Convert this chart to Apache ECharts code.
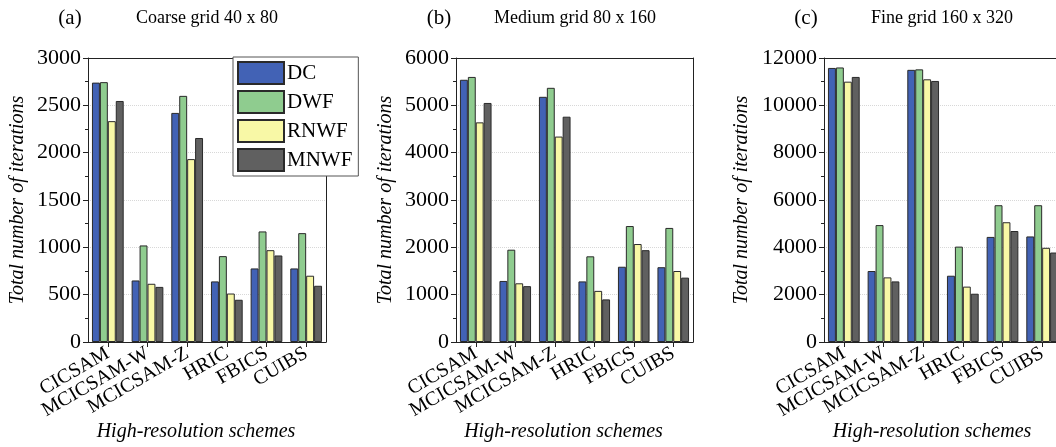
<!DOCTYPE html>
<html><head><meta charset="utf-8">
<script src="https://cdn.jsdelivr.net/npm/echarts@6/dist/echarts.min.js"></script>
<style>html,body{margin:0;padding:0;background:#fff}#c{width:1056px;height:447px}</style>
</head><body><div id="c"></div>
<script>
const categories = ['CICSAM','MCICSAM-W','MCICSAM-Z','HRIC','FBICS','CUIBS'];
const seriesNames = ['DC','DWF','RNWF','MNWF'];
// Panel (a) Coarse grid 40 x 80
const coarseDC   = [2740, 650, 2420, 640, 777, 777];
const coarseDWF  = [2745, 1020, 2600, 907, 1168, 1150];
const coarseRNWF = [2333, 615, 1932, 512, 970, 700];
const coarseMNWF = [2546, 582, 2155, 446, 914, 594];
// Panel (b) Medium grid 80 x 160
const mediumDC   = [5540, 1290, 5180, 1280, 1590, 1580];
const mediumDWF  = [5600, 1950, 5370, 1810, 2450, 2410];
const mediumRNWF = [4640, 1240, 4340, 1080, 2070, 1500];
const mediumMNWF = [5050, 1180, 4760, 900, 1940, 1360];
// Panel (c) Fine grid 160 x 320
const fineDC   = [11580, 3000, 11500, 2800, 4440, 4460];
const fineDWF  = [11600, 4940, 11520, 4030, 5780, 5780];
const fineRNWF = [11000, 2730, 11100, 2340, 5060, 3980];
const fineMNWF = [11200, 2560, 11030, 2040, 4690, 3780];

const panelLetters = ['(a)','(b)','(c)'];
const panelTitles = ['Coarse grid 40 x 80','Medium grid 80 x 160','Fine grid 160 x 320'];
const yMax = [3000, 6000, 12000];
const yInterval = [500, 1000, 2000];
const yName = 'Total number of iterations';
const xName = 'High-resolution schemes';

const panels = [
  [coarseDC, coarseDWF, coarseRNWF, coarseMNWF],
  [mediumDC, mediumDWF, mediumRNWF, mediumMNWF],
  [fineDC, fineDWF, fineRNWF, fineMNWF]
];
const colors = ['#4262b5','#8fcc8f','#f8f8a6','#606060'];
const FONT = '"Liberation Serif", "Times New Roman", serif';

const grids = [
  {left: 88, right: 730, top: 58, bottom: 105},
  {left: 456, right: 363, top: 58, bottom: 105},
  {left: 824, right: -6, top: 58, bottom: 105}
];
const letterX = [70, 439, 806];
const titleX = [207, 575, 942];

const frameLine = {show: true, onZero: false, lineStyle: {color: '#222', width: 1}};

const xAxes = [], yAxes = [];
grids.forEach((g, i) => {
  xAxes.push({
    type: 'category', gridIndex: i, data: categories, position: 'bottom',
    axisLine: frameLine,
    axisTick: {show: true, alignWithLabel: true, length: 5, lineStyle: {color: '#222'}},
    axisLabel: {rotate: 30, interval: 0, margin: 10, fontFamily: FONT, fontSize: 20, color: '#000'},
    name: xName, nameLocation: 'middle', nameGap: 80, nameMoveOverlap: false,
    nameTextStyle: {fontFamily: FONT, fontSize: 20, fontStyle: 'italic', color: '#000', padding: [0, 22, 0, 0]}
  });
  yAxes.push({
    type: 'value', gridIndex: i, min: 0, max: yMax[i], interval: yInterval[i], position: 'left',
    axisLine: frameLine,
    axisTick: {show: true, length: 5, lineStyle: {color: '#222'}},
    minorTick: {show: true, splitNumber: 2, length: 3, lineStyle: {color: '#222'}},
    splitLine: {show: true, lineStyle: {color: '#d8d8d8', type: 'dotted', width: 1}},
    axisLabel: {margin: 7, fontFamily: FONT, fontSize: 22, color: '#000', formatter: v => String(v)},
    name: yName, nameLocation: 'middle', nameGap: i === 2 ? 72 : 60, nameMoveOverlap: false,
    nameTextStyle: {fontFamily: FONT, fontSize: 20, fontStyle: 'italic', color: '#000'}
  });
});
// frame axes (top and right edges of each plot)
grids.forEach((g, i) => {
  xAxes.push({
    type: 'category', gridIndex: i, data: categories, position: 'top',
    axisLine: frameLine, axisTick: {show: false}, axisLabel: {show: false}, splitLine: {show: false}
  });
  yAxes.push({
    type: 'value', gridIndex: i, min: 0, max: yMax[i], interval: yInterval[i], position: 'right',
    axisLine: frameLine, axisTick: {show: false}, axisLabel: {show: false}, splitLine: {show: false}
  });
});

const option = {
  animation: false,
  backgroundColor: '#fff',
  title: [].concat(
    panelLetters.map((t,i)=>({text:t, left: letterX[i], top: 8, textAlign:'center', padding:0,
      textStyle:{fontFamily:FONT, fontSize:21, fontWeight:'normal', color:'#000'}})),
    panelTitles.map((t,i)=>({text:t, left: titleX[i], top: 9, textAlign:'center', padding:0,
      textStyle:{fontFamily:FONT, fontSize:18, fontWeight:'normal', color:'#000'}}))
  ),
  legend: {
    data: seriesNames,
    left: 233, top: 57, orient: 'vertical',
    itemWidth: 46, itemHeight: 22, itemGap: 5,
    padding: [4, 6, 4, 4],
    borderColor: '#555', borderWidth: 1, backgroundColor: '#fff',
    textStyle: {fontFamily: FONT, fontSize: 21, color: '#000', padding: [0,0,0,-2]},
    icon: 'rect', z: 10
  },
  grid: grids.map(g => Object.assign({containLabel: false, outerBoundsMode: 'none'}, g)),
  xAxis: xAxes,
  yAxis: yAxes,
  series: []
};
panels.forEach((p, pi) => {
  p.forEach((vals, si) => {
    option.series.push({
      name: seriesNames[si], type: 'bar', xAxisIndex: pi, yAxisIndex: pi,
      data: vals, barGap: '0%', barCategoryGap: '20%',
      itemStyle: {color: colors[si], borderColor: '#2a2a2a', borderWidth: 1}
    });
  });
});
const chart = echarts.init(document.getElementById('c'), null, {renderer: 'canvas'});
chart.setOption(option);
</script></body></html>
